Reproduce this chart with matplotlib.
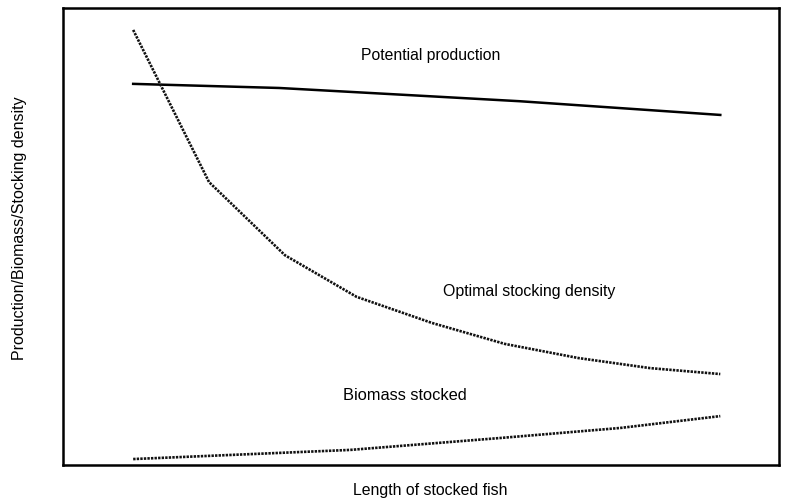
import matplotlib
matplotlib.use("Agg")
import matplotlib.pyplot as plt

plt.rcParams['font.family'] = ['Liberation Sans', 'DejaVu Sans']

# x: length of stocked fish (arbitrary units, 0-100), y: relative value (0-100)
x_opt = [9.8, 20.4, 31.0, 41.0, 51.5, 61.7, 72.0, 82.0, 91.8]
y_opt = [95.2, 61.9, 45.9, 36.8, 31.1, 26.5, 23.4, 21.2, 19.9]

x_pot = [9.8, 30.2, 51.1, 63.8, 91.8]
y_pot = [83.4, 82.5, 80.7, 79.6, 76.6]

x_bio = [9.8, 40.1, 61.0, 77.8, 91.8]
y_bio = [1.3, 3.3, 5.9, 8.1, 10.7]

fig = plt.figure(figsize=(7.89, 5.04), dpi=100)
ax = fig.add_axes([63 / 789, 39 / 504, 716 / 789, 457 / 504])

ax.plot(x_pot, y_pot, color='black', lw=1.8)
ax.plot(x_opt, y_opt, color='#111111', lw=1.9, linestyle=(0, (0.9, 0.45)))
ax.plot(x_bio, y_bio, color='#111111', lw=1.9, linestyle=(0, (0.9, 0.45)))

ax.text(51.3, 89.6, "Potential production", ha='center', va='center', fontsize=11.3)
ax.text(65.1, 38.0, "Optimal stocking density", ha='center', va='center', fontsize=11.4)
ax.text(47.8, 15.3, "Biomass stocked", ha='center', va='center', fontsize=11.8)

ax.set_xlim(0, 100)
ax.set_ylim(0, 100)
ax.set_xticks([])
ax.set_yticks([])
for s in ax.spines.values():
    s.set_linewidth(1.8)

fig.text(430 / 789, 1 - 491 / 504, "Length of stocked fish", ha='center', va='center', fontsize=11.4)
fig.text(20 / 789, 1 - 228 / 504, "Production/Biomass/Stocking density", ha='center', va='center',
         rotation=90, fontsize=11.5)

fig.savefig("out.png", dpi=100)
